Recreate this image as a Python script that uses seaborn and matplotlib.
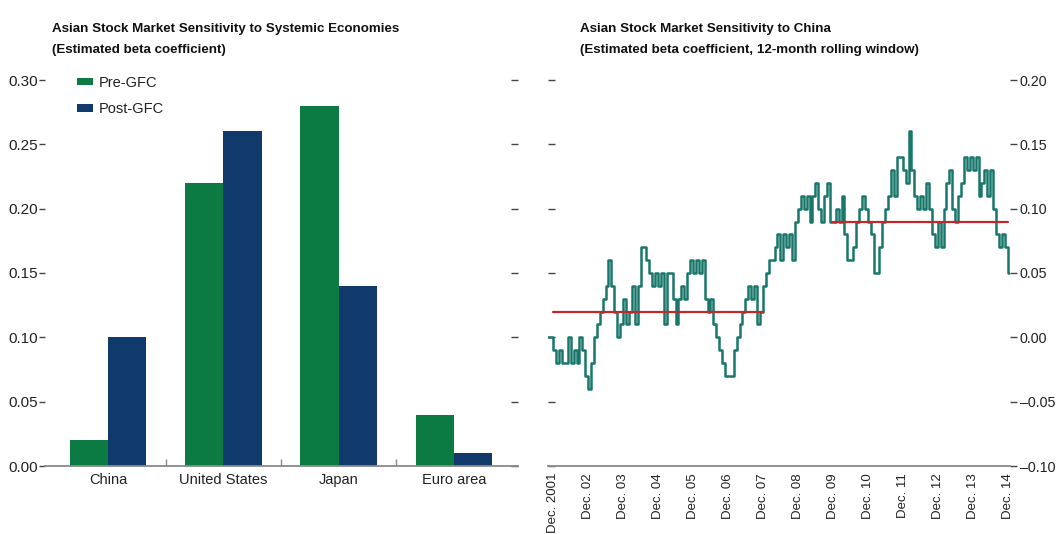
import numpy as np
import pandas as pd
import matplotlib
matplotlib.use("Agg")
import matplotlib.pyplot as plt
import matplotlib.dates as mdates
from matplotlib.ticker import FixedLocator
import seaborn as sns

# ---------------- data ----------------
economies = ["China", "United States", "Japan", "Euro area"]
pre_gfc = [0.02, 0.22, 0.28, 0.04]
post_gfc = [0.10, 0.26, 0.14, 0.01]
bar_ticks = [0.00, 0.05, 0.10, 0.15, 0.20, 0.25, 0.30]

line_start = "2001-10-01"
beta_china = [
    0.00, 0.00,
    -0.01, -0.02, -0.01, -0.02, -0.02, 0.00, -0.02, -0.01, -0.02, 0.00, -0.01, -0.03,
    -0.04, -0.02, 0.00, 0.01, 0.02, 0.03, 0.04, 0.06, 0.04, 0.02, 0.00, 0.01,
    0.03, 0.01, 0.02, 0.04, 0.01, 0.04, 0.07, 0.07, 0.06, 0.05, 0.04, 0.05,
    0.04, 0.05, 0.01, 0.05, 0.05, 0.03, 0.01, 0.03, 0.04, 0.03, 0.05, 0.06,
    0.05, 0.06, 0.05, 0.06, 0.03, 0.02, 0.03, 0.01, 0.00, -0.01, -0.02, -0.03,
    -0.03, -0.03, -0.01, 0.00, 0.01, 0.02, 0.03, 0.04, 0.03, 0.04, 0.01, 0.02,
    0.04, 0.05, 0.06, 0.06, 0.07, 0.08, 0.06, 0.08, 0.07, 0.08, 0.06, 0.09,
    0.10, 0.11, 0.10, 0.11, 0.09, 0.11, 0.12, 0.10, 0.09, 0.11, 0.12, 0.09,
    0.09, 0.10, 0.09, 0.11, 0.08, 0.06, 0.06, 0.07, 0.09, 0.10, 0.11, 0.10,
    0.09, 0.08, 0.05, 0.05, 0.07, 0.09, 0.10, 0.11, 0.13, 0.11, 0.14, 0.14,
    0.13, 0.12, 0.16, 0.13, 0.11, 0.10, 0.11, 0.10, 0.12, 0.10, 0.08, 0.07,
    0.09, 0.07, 0.10, 0.12, 0.13, 0.10, 0.09, 0.11, 0.12, 0.14, 0.13, 0.14,
    0.13, 0.14, 0.11, 0.12, 0.13, 0.11, 0.13, 0.10, 0.08, 0.07, 0.08, 0.07,
    0.05, 0.05, 0.05,
]
pre_mean_dates = ["2001-12-01", "2007-12-01"]
pre_mean = [0.02, 0.02]
post_mean_dates = ["2009-12-01", "2014-12-01"]
post_mean = [0.09, 0.09]
tick_years = list(range(2001, 2015))
tick_labels = ["Dec. 2001"] + [f"Dec. {y % 100:02d}" for y in range(2002, 2015)]
line_ticks = [-0.10, -0.05, 0.00, 0.05, 0.10, 0.15, 0.20]

# ---------------- style ----------------
sns.set_theme(style="white")
plt.rcParams["font.family"] = ["Liberation Sans", "DejaVu Sans"]

GREEN = "#0b7a43"
NAVY = "#0f3a6b"
TEAL = "#18776a"
RED = "#c0282d"
GRAY = "#8a8a8a"
TXT = "#222222"

fig = plt.figure(figsize=(10.57, 5.34), dpi=100)
W, H = 1057, 534

def axrect(x0, x1, ytop, ybot):
    return [x0 / W, (H - ybot) / H, (x1 - x0) / W, (ybot - ytop) / H]

# ---------------- left: bars ----------------
ax1 = fig.add_axes(axrect(44.6, 518, 80, 466))
bars = pd.DataFrame({
    "economy": economies * 2,
    "beta": pre_gfc + post_gfc,
    "period": ["Pre-GFC"] * 4 + ["Post-GFC"] * 4,
})
sns.barplot(data=bars, x="economy", y="beta", hue="period",
            palette=[GREEN, NAVY], width=0.667, saturation=1,
            edgecolor="none", linewidth=0, ax=ax1)
ax1.set_xlim(-0.55, 3.555)
ax1.set_ylim(0, 0.30)
ax1.set_xlabel("")
ax1.set_ylabel("")
ax1.yaxis.set_major_locator(FixedLocator(bar_ticks))
ax1.set_yticklabels([f"{v:.2f}" for v in bar_ticks])
for s in ["top", "left", "right"]:
    ax1.spines[s].set_visible(False)
ax1.spines["bottom"].set_color(GRAY)
ax1.spines["bottom"].set_linewidth(1.3)
ax1.tick_params(axis="y", which="major", left=True, right=False, direction="out",
                length=4, width=1, color="#444444", labelsize=11, pad=1,
                labelcolor=TXT)
ax1.tick_params(axis="x", which="major", length=0, labelsize=10.5, pad=5,
                labelcolor=TXT)
ax1.xaxis.set_minor_locator(FixedLocator([0.5, 1.5, 2.5]))
ax1.tick_params(axis="x", which="minor", bottom=True, direction="in", length=5,
                width=1, color=GRAY)
ax1r = ax1.secondary_yaxis("right")
ax1r.set_yticks(bar_ticks)
ax1r.tick_params(direction="in", length=5, width=1, color="#444444", labelright=False)
ax1r.spines["right"].set_visible(False)

leg = ax1.legend(loc="upper left", bbox_to_anchor=(0.04, 1.045), frameon=False,
                 fontsize=10.5, handlelength=1.1, handleheight=0.45,
                 handletextpad=0.4, labelspacing=0.85)
for t in leg.get_texts():
    t.set_color(TXT)

# ---------------- right: line ----------------
ax2 = fig.add_axes(axrect(548, 1010, 80, 466))
dates = pd.date_range(line_start, periods=len(beta_china), freq="MS")
line_df = pd.DataFrame({"date": dates, "beta": beta_china})
sns.lineplot(data=line_df, x="date", y="beta", color=TEAL, linewidth=1.8,
             drawstyle="steps-post", ax=ax2)
sns.lineplot(x=pd.to_datetime(pre_mean_dates), y=pre_mean, color=RED,
             linewidth=1.6, ax=ax2)
sns.lineplot(x=pd.to_datetime(post_mean_dates), y=post_mean, color=RED,
             linewidth=1.6, ax=ax2)

x_left = mdates.date2num(pd.Timestamp("2001-12-01")) - 1.8 * 30.44
x_right = mdates.date2num(pd.Timestamp("2014-12-01")) + 0.8 * 30.44
ax2.set_xlim(x_left, x_right)
ax2.set_ylim(-0.10, 0.20)
ax2.set_xlabel("")
ax2.set_ylabel("")
ax2.xaxis.set_major_locator(FixedLocator(
    [mdates.date2num(pd.Timestamp(f"{y}-12-01")) for y in tick_years]))
ax2.set_xticklabels(tick_labels, rotation=90, fontsize=9.5, color=TXT)
ax2.tick_params(axis="x", direction="inout", length=8, width=1, color=GRAY, pad=1)
ax2.yaxis.set_major_locator(FixedLocator(line_ticks))
ax2.yaxis.tick_right()
ax2.set_yticklabels([f"{v:.2f}".replace("-", "\u2013") for v in line_ticks])
ax2.tick_params(axis="y", which="major", right=True, left=False, labelleft=False,
                labelright=True, direction="out", length=5, width=1,
                color="#444444", labelsize=10.3, labelcolor=TXT, pad=2)
ax2l = ax2.secondary_yaxis("left")
ax2l.set_yticks(line_ticks)
ax2l.tick_params(direction="in", length=5, width=1, color="#444444", labelleft=False)
ax2l.spines["left"].set_visible(False)
for s in ["top", "left", "right"]:
    ax2.spines[s].set_visible(False)
ax2.spines["bottom"].set_color(GRAY)
ax2.spines["bottom"].set_linewidth(1.3)

# ---------------- titles ----------------
tkw = dict(fontsize=9.6, fontweight="bold", color="#111111", va="baseline", ha="left")
fig.text(52 / W, 1 - 32 / H, "Asian Stock Market Sensitivity to Systemic Economies", **tkw)
fig.text(52 / W, 1 - 53 / H, "(Estimated beta coefficient)", **tkw)
fig.text(580 / W, 1 - 32 / H, "Asian Stock Market Sensitivity to China", **tkw)
fig.text(580 / W, 1 - 53 / H, "(Estimated beta coefficient, 12-month rolling window)", **tkw)

fig.savefig("out.png", dpi=100, facecolor="white")
